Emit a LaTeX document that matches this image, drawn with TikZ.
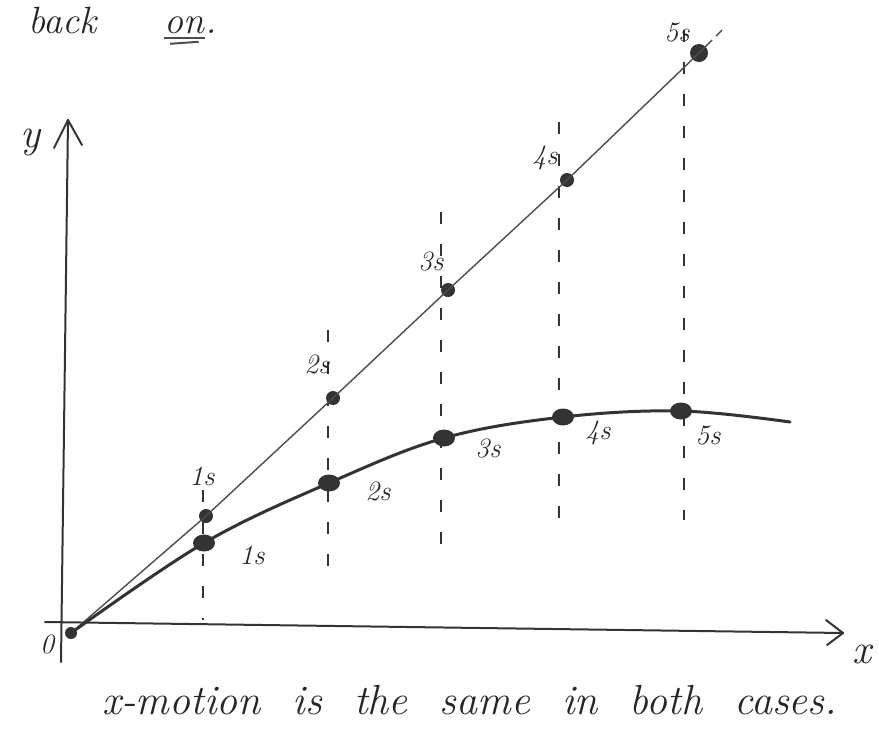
\documentclass[tikz,border=0pt]{standalone}
\usepackage{amsmath,amssymb}
\usepackage{tikz}
\usetikzlibrary{shapes.geometric}

\tikzset{
  pen/.style={draw=black!80,line width=1pt,line cap=round,line join=round},
  thinpen/.style={draw=black!70,line width=0.7pt},
  guide/.style={draw=black!80,line width=0.9pt,dash pattern=on 6pt off 10pt},
  sdot/.style={circle,fill=black!80,inner sep=0pt,minimum size=7pt},
  cdot/.style={ellipse,fill=black!80,inner sep=0pt,minimum width=11pt,minimum height=8.5pt},
  tag/.style={font=\fontsize{14}{14}\selectfont\itshape,text=black!85,inner sep=0pt},
  hand/.style={font=\fontsize{21}{21}\selectfont\itshape,text=black!85,inner sep=0pt},
}
\newcommand{\gap}{\hspace{16pt}}

\begin{document}
\begin{tikzpicture}[x=0.5pt,y=-0.5pt]
\useasboundingbox (0,0) rectangle (879,729);
% heading
\node[hand,font=\fontsize{19}{19}\selectfont\itshape,anchor=base west] (back) at (28,33) {back};
\node[hand,font=\fontsize{19}{19}\selectfont\itshape,anchor=base west] (on) at (164,33) {on};
\node[hand,font=\fontsize{19}{19}\selectfont\itshape,anchor=base west] (stop) at (on.base east) {.};
\draw[thinpen,line width=1pt] ([yshift=-2pt]on.south west) -- ([yshift=-2pt]on.south east);
\draw[thinpen,line width=1pt] ([xshift=3pt,yshift=-5pt]on.south west) -- ([xshift=-3pt,yshift=-4pt]on.south east);
% axes
\coordinate (ybot) at (61,662);
\coordinate (ytop) at (68,120);
\draw[pen] (ybot) -- (ytop);
\draw[pen] ([shift={(-14,28)}]ytop) -- (ytop) -- ([shift={(14,25)}]ytop);
\node[hand] (ylab) at (30,143) {y};
\coordinate (xleft) at (45,622);
\coordinate (xtip) at (843,633);
\draw[pen] (xleft) -- (xtip);
\draw[pen] ([shift={(-17,-13)}]xtip) -- (xtip) -- ([shift={(-16,12)}]xtip);
\node[hand] (xlab) at (862,654) {x};
\node[sdot,minimum size=6pt] (O) at (71,633) {};
\node[tag] (olab) at (47,644) {0};
% time marks
\foreach \gx/\gt/\gb in {203/490/620,328/330/580,441/212/555,559/122/518,684/30/520}
  \draw[guide] (\gx,\gt) -- (\gx,\gb);
% straight path
\node[sdot] (s1) at (206,516) {};
\node[sdot] (s2) at (333,398) {};
\node[sdot] (s3) at (448,290) {};
\node[sdot] (s4) at (567,180) {};
\node[sdot,minimum width=7pt,minimum height=9pt] (s5) at (699,53) {};
\coordinate (send) at (712,40);
\draw[thinpen] (O.center) -- (s1.center) -- (s2.center) -- (s3.center) -- (s4.center) -- (s5.center) -- (send);
\draw[thinpen] ([shift={(4,-4)}]send) -- ([shift={(10,-10)}]send);
\node[tag] (t1) at (202,476) {1s};
\node[tag] (t2) at (317,364) {2s};
\node[tag] (t3) at (431,261) {3s};
\node[tag] (t4) at (545,158) {4s};
\node[tag] (t5) at (677,32) {5s};
% curved path
\node[cdot] (c1) at (204,543) {};
\node[cdot] (c2) at (329,483) {};
\node[cdot] (c3) at (444,438) {};
\node[cdot] (c4) at (563,417) {};
\node[cdot] (c5) at (681,411) {};
\coordinate (cend) at (790,422);
\draw[pen,line width=1.5pt] plot[smooth,tension=0.6] coordinates {(O.center) (c1.center) (c2.center) (c3.center) (c4.center) (c5.center) (cend)};
\node[tag] (u1) at (252,555) {1s};
\node[tag] (u2) at (378,491) {2s};
\node[tag] (u3) at (488,448) {3s};
\node[tag] (u4) at (598,433) {4s};
\node[tag] (u5) at (708,435) {5s};
% note
\node[hand,anchor=west] (note) at (102,700) {x-motion\gap is\gap the\gap same\gap in\gap both\gap cases.};
\end{tikzpicture}
\end{document}
